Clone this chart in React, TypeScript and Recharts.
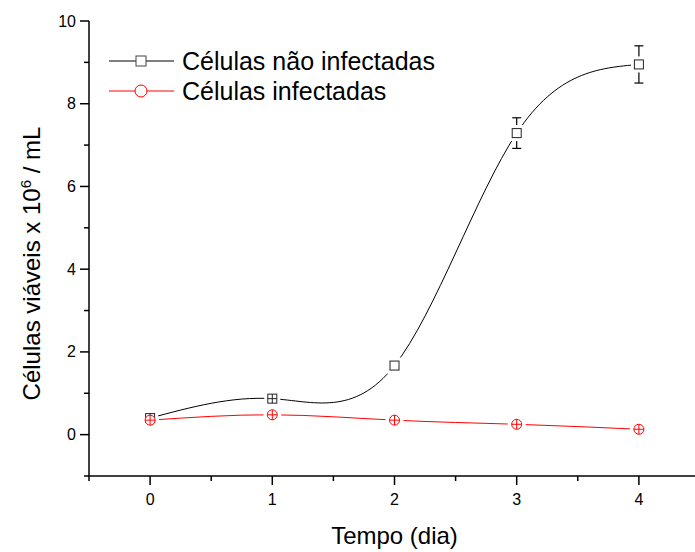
import React from "react";
import { LineChart, Line, XAxis, YAxis, ErrorBar, Legend, Label } from "recharts";

// dados
const dias = [0, 1, 2, 3, 4];
const naoInfectadas = [0.4, 0.87, 1.67, 7.29, 8.95];
const naoInfectadasErro = [0.03, 0.03, 0, 0.37, 0.45];
const infectadas = [0.35, 0.48, 0.35, 0.25, 0.13];
const infectadasErro = [0.03, 0.03, 0.03, 0.03, 0.03];

const xTicks = [-0.5, 0, 0.5, 1, 1.5, 2, 2.5, 3, 3.5, 4, 4.5];
const yTicks = [-1, 0, 1, 2, 3, 4, 5, 6, 7, 8, 9, 10];

const data = dias.map((d, i) => ({
  dia: d,
  nao: naoInfectadas[i],
  naoErr: naoInfectadasErro[i],
  inf: infectadas[i],
  infErr: infectadasErro[i],
}));

const FONT = "'Liberation Sans', Arial, sans-serif";
const BLACK = "#000";
const RED = "#ff0000";

// fundo branco em volta do símbolo (a linha "para" antes do marcador)
const halo = (shape: "square" | "circle") => (p: any) => {
  if (shape === "square")
    return <rect key={"h" + p.index} x={p.cx - 8} y={p.cy - 8} width={16} height={16} fill="#fff" />;
  return <circle key={"h" + p.index} cx={p.cx} cy={p.cy} r={9} fill="#fff" />;
};

const squareMark = (p: any) => {
  const s = 4.5;
  const small = p.payload.naoErr < 0.1 && p.payload.naoErr > 0;
  return (
    <g key={"s" + p.index}>
      <rect x={p.cx - s} y={p.cy - s} width={2 * s} height={2 * s} fill="#fff" stroke="#222" strokeWidth={1} />
      {small && (
        <>
          <line x1={p.cx} y1={p.cy - s} x2={p.cx} y2={p.cy + s} stroke="#222" />
          <line x1={p.cx - s} y1={p.cy} x2={p.cx + s} y2={p.cy} stroke="#222" />
        </>
      )}
    </g>
  );
};

const circleMark = (p: any) => {
  const r = 5;
  const small = p.payload.infErr < 0.1 && p.payload.infErr > 0;
  return (
    <g key={"c" + p.index}>
      <circle cx={p.cx} cy={p.cy} r={r} fill="#fff" stroke={RED} strokeWidth={1} />
      {small && (
        <>
          <line x1={p.cx} y1={p.cy - r} x2={p.cx} y2={p.cy + r} stroke={RED} />
          <line x1={p.cx - r} y1={p.cy} x2={p.cx + r} y2={p.cy} stroke={RED} />
        </>
      )}
    </g>
  );
};

const YTick = (props: any) => {
  const { x, y, payload } = props;
  const v = payload.value;
  const axisX = x + 4 + 9;
  const major = v >= 0 && v % 2 === 0;
  return (
    <g>
      <line x1={axisX - (major ? 9 : 5)} y1={y} x2={axisX} y2={y} stroke={BLACK} strokeWidth={1.5} />
      {major && (
        <text x={x} y={y} textAnchor="end" dominantBaseline="central" fontSize={16} fontFamily={FONT} fill={BLACK}>
          {v}
        </text>
      )}
    </g>
  );
};

const XTick = (props: any) => {
  const { x, y, payload } = props;
  const v = payload.value;
  const axisY = y - 4 - 9;
  const major = Number.isInteger(v);
  return (
    <g>
      <line x1={x} y1={axisY} x2={x} y2={axisY + (major ? 9 : 5)} stroke={BLACK} strokeWidth={1.5} />
      {major && (
        <text x={x} y={y + 16} textAnchor="middle" fontSize={16} fontFamily={FONT} fill={BLACK}>
          {v}
        </text>
      )}
    </g>
  );
};

const XTitle = (props: any) => {
  const vb = props.viewBox;
  return (
    <text x={vb.x + vb.width / 2} y={vb.y + 68} textAnchor="middle" fontSize={24} fontFamily={FONT} fill={BLACK}>
      Tempo (dia)
    </text>
  );
};

const YTitle = (props: any) => {
  const vb = props.viewBox;
  const cx = 40;
  const cy = vb.y + vb.height / 2 + 15;
  return (
    <text
      x={cx}
      y={cy}
      transform={`rotate(-90 ${cx} ${cy})`}
      textAnchor="middle"
      fontSize={24}
      fontFamily={FONT}
      fill={BLACK}
    >
      Células viáveis x 10
      <tspan fontSize={15} dy={-9}>6</tspan>
      <tspan dy={9}> / mL</tspan>
    </text>
  );
};

const legendItems = [
  { nome: "Células não infectadas", cor: BLACK, forma: "square" },
  { nome: "Células infectadas", cor: RED, forma: "circle" },
];

const LegendBox = () => (
  <svg width={400} height={75}>
    {legendItems.map((it, i) => {
      const y = 25 + i * 30;
      return (
        <g key={it.nome}>
          <line x1={9} y1={y} x2={74} y2={y} stroke={it.cor} strokeWidth={1} />
          {it.forma === "square" ? (
            <rect x={36} y={y - 5} width={10} height={10} fill="#fff" stroke="#444" strokeWidth={1} />
          ) : (
            <circle cx={41} cy={y} r={6} fill="#fff" stroke={RED} strokeWidth={1} />
          )}
          <text x={82} y={y} dominantBaseline="central" fontSize={25} fontFamily={FONT} fill={BLACK}>
            {it.nome}
          </text>
        </g>
      );
    })}
  </svg>
);

export default function App() {
  return (
    <div
      style={{
        position: "absolute",
        left: 0,
        top: 0,
        width: 695,
        height: 552,
        overflow: "hidden",
        background: "#fff",
      }}
    >
      <LineChart width={720} height={552} data={data} margin={{ top: 21, right: 20, bottom: 0, left: 0 }}>
        <XAxis
          type="number"
          dataKey="dia"
          domain={[-0.5, 4.5]}
          ticks={xTicks}
          interval={0}
          allowDataOverflow
          height={76}
          tickSize={9}
          tickMargin={4}
          tickLine={false}
          axisLine={{ stroke: BLACK, strokeWidth: 1.5 }}
          tick={<XTick />}
        >
          <Label content={XTitle} />
        </XAxis>
        <YAxis
          type="number"
          domain={[-1, 10]}
          ticks={yTicks}
          interval={0}
          allowDataOverflow
          width={89}
          tickSize={9}
          tickMargin={4}
          tickLine={false}
          axisLine={{ stroke: BLACK, strokeWidth: 1.5 }}
          tick={<YTick />}
        >
          <Label content={YTitle} />
        </YAxis>
        <Legend
          layout="vertical"
          align="center"
          verticalAlign="middle"
          wrapperStyle={{ left: 100, top: 36, width: 400, height: 75 }}
          content={<LegendBox />}
        />
        {/* curvas com "halo" branco nos pontos */}
        <Line
          type="natural"
          dataKey="nao"
          stroke={BLACK}
          strokeWidth={1}
          dot={halo("square")}
          activeDot={false}
          isAnimationActive={false}
        />
        <Line
          type="natural"
          dataKey="inf"
          stroke={RED}
          strokeWidth={1}
          dot={halo("circle")}
          activeDot={false}
          isAnimationActive={false}
        />
        {/* barras de erro e marcadores por cima */}
        <Line
          type="natural"
          dataKey="nao"
          stroke="none"
          dot={squareMark}
          activeDot={false}
          isAnimationActive={false}
        >
          <ErrorBar dataKey="naoErr" direction="y" width={4.5} stroke={BLACK} strokeWidth={1.2} />
        </Line>
        <Line
          type="natural"
          dataKey="inf"
          stroke="none"
          dot={circleMark}
          activeDot={false}
          isAnimationActive={false}
        >
          <ErrorBar dataKey="infErr" direction="y" width={4.5} stroke={RED} strokeWidth={1} />
        </Line>
      </LineChart>
    </div>
  );
}
